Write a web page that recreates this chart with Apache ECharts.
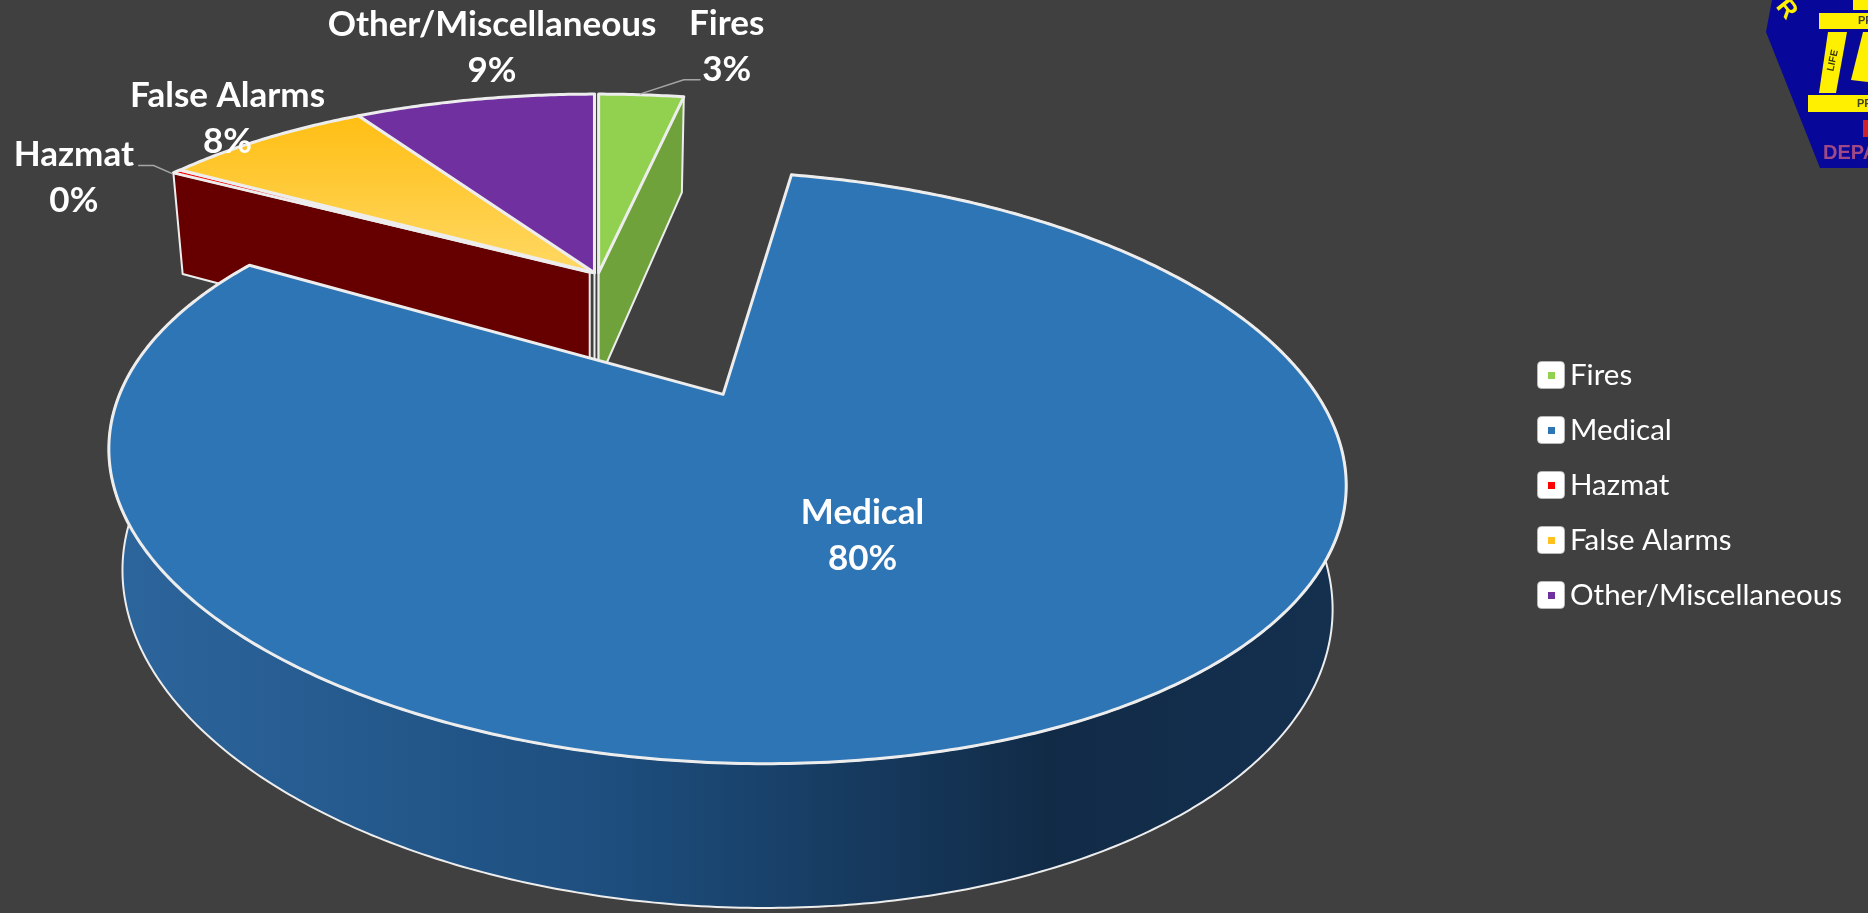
<!DOCTYPE html>
<html><head><meta charset="utf-8">
<style>html,body{margin:0;padding:0;background:#404040}#c{width:1868px;height:913px}</style>
<script src="https://cdn.jsdelivr.net/npm/echarts@6/dist/echarts.min.js"></script>
</head><body><div id="c"></div>
<script>
const categories = ['Fires','Medical','Hazmat','False Alarms','Other/Miscellaneous'];
const values = [3.1, 80.3, 0.3, 7.55, 8.75];
const legendColors = ['#92D050','#2E75B6','#FF0000','#FFC020','#7030A0'];

const S = 1868/1568;
const total = values.reduce((a,b)=>a+b,0);
const group = {x:500,y:229,a:460,b:187.5,k:0.25,c:0,sh:0,cx:500,qx:0,qy:0};
const medical = {x:607,y:331,a:502,b:233,k:0.252,c:23,sh:3.5,cx:611,qx:2.5,qy:1.5};
const styleOf = [
  {t:group, nudge:2.5, top:'#92D050', wall:'#70A23C', walls:[0,1], apexShift:0},
  {t:medical, nudge:0, top:'#2E75B6', rim:true, apexShift:0},
  {t:group, nudge:-1.5, top:'#FF0000', wall:'#660000', walls:[0], apexShift:-3.5},
  {t:group, nudge:-1, top:'grad', walls:[], apexShift:0},
  {t:group, nudge:-1, top:'#7030A0', wall:'#5A2586', walls:[1], apexShift:0}
];
const labelPos = [[610,39],[724,450],[62,149],[191,100],[413,40]];
const leaders = {0:[[537,79],[574,67],[588,67]],2:[[145,146],[129,139],[116,139]]};
const edge = '#EDEDED';

function project(st,u,v,bottom){
  const t=st.t, w=1+t.k*v, r2=u*u+v*v;
  let x=t.x+(t.a*u-t.c*v)/w+st.nudge-t.qx*r2, y=t.y+(-t.b*v+t.sh*u)/w-t.qy*r2;
  if(bottom){ const h=80+0.073*(y-78); x=x-(x-t.cx)*0.022; y=y+h; }
  return [x*S,y*S];
}
function rimPts(st,a0,a1,bottom){
  const pts=[],n=Math.max(2,Math.ceil((a1-a0)/0.01));
  for(let i=0;i<=n;i++){const a=a0+(a1-a0)*i/n;pts.push(project(st,Math.sin(a),Math.cos(a),bottom));}
  return pts;
}
function poly(points,fill,z2,stroke,lw){
  return {type:'polygon',shape:{points},z2,style:{fill,stroke:stroke||edge,lineWidth:lw===undefined?3:lw,lineJoin:'round'}};
}
function makeItem(index){
  return function(params,api){
    const val=api.value(0), st=styleOf[index], kids=[];
    let before=0; for(let i=0;i<index;i++) before+=values[i];
    const a0=before/total*2*Math.PI, a1=(before+val)/total*2*Math.PI;
    const c=project(st,0,0,false), cb=project(st,0,0,true);
    const top=rimPts(st,a0,a1,false);
    if(st.rim){
      const b=rimPts(st,a0,a1,true).reverse();
      const grad=new echarts.graphic.LinearGradient(100*S,0,1125*S,0,[
        {offset:0,color:'#2C659C'},{offset:0.4,color:'#1D4E7E'},{offset:0.76,color:'#112B47'},{offset:1,color:'#14304F'}],true);
      kids.push(poly(top.concat(b),grad,1,edge,2));
    }
    (st.walls||[]).forEach(k=>{
      const p=k===0?top[0]:top[top.length-1];
      const a=k===0?a0:a1;
      const pb=project(st,Math.sin(a),Math.cos(a),true);
      const sh=st.apexShift*S;
      kids.push(poly([[c[0]+sh,c[1]],p,pb,[cb[0]+sh,cb[1]]],st.wall,k===0&&index===0?1:2,edge,2));
    });
    let fill=st.top;
    if(fill==='grad') fill=new echarts.graphic.LinearGradient(0,95*S,0,232*S,[{offset:0,color:'#FFBE12'},{offset:1,color:'#FFD966'}],true);
    kids.push(poly([c].concat(top),fill,5));
    if(leaders[index]){
      kids.push({type:'polyline',z2:6,shape:{points:leaders[index].map(p=>[p[0]*S,p[1]*S])},style:{fill:null,stroke:'#A6A6A6',lineWidth:1.5}});
    }
    const pos=labelPos[index];
    kids.push({type:'text',z2:20,style:{
      text:categories[index]+'\n'+Math.round(val/total*100)+'%',
      x:pos[0]*S,y:pos[1]*S,align:'center',verticalAlign:'middle',
      fill:'#FFFFFF',font:'bold 35px Lato',lineHeight:46}});
    return {type:'group',children:kids};
  };
}
function legendIcon(color){
  const svg='<svg xmlns="http://www.w3.org/2000/svg" width="112" height="112"><rect x="2" y="2" width="108" height="108" rx="16" fill="#ffffff" stroke="#BFBFBF" stroke-width="3"/><rect x="44" y="44" width="28" height="28" fill="'+color+'"/></svg>';
  return 'image://data:image/svg+xml;charset=utf-8,'+encodeURIComponent(svg);
}
const zOrder=[2,3,2,2,2];
const chart=echarts.init(document.getElementById('c'));
chart.setOption({
  backgroundColor:'#404040',
  animation:false,
  tooltip:{show:false},
  legend:{
    orient:'vertical',left:1537,top:360,padding:0,itemWidth:28,itemHeight:28,itemGap:25,selectedMode:false,
    textStyle:{color:'#FFFFFF',fontFamily:'Lato',fontSize:29.5,lineHeight:28},
    data:categories.map((n,i)=>({name:n,icon:legendIcon(legendColors[i])}))
  },
  graphic:{elements:[
    {type:'polygon',shape:{points:[[1772,0],[1766,32],[1820,168],[1868,168],[1868,0]]},style:{fill:'#07079A'}},
    {type:'polygon',shape:{points:[[1819,13],[1868,13],[1868,29],[1819,29]]},style:{fill:'#FFF000'}},
    {type:'polygon',shape:{points:[[1853,0],[1868,0],[1868,10],[1853,10]]},style:{fill:'#FFF000'}},
    {type:'polygon',shape:{points:[[1828,32],[1847,32],[1836,93],[1819,93]]},style:{fill:'#FFF000'}},
    {type:'polygon',shape:{points:[[1808,95],[1868,95],[1868,112],[1808,112]]},style:{fill:'#FFF000'}},
    {type:'polygon',shape:{points:[[1863,32],[1868,32],[1868,82],[1851,80]]},style:{fill:'#FFF000'}},
    {type:'rect',shape:{x:1863,y:120,width:5,height:17},style:{fill:'#D0202A'}},
    {type:'text',style:{text:'R',x:1778,y:0,fill:'#FFF000',font:'bold 25px "Liberation Sans"'},rotation:-0.9,originX:1790,originY:10},
    {type:'text',style:{text:'LIFE',x:1824,y:52,fill:'#333300',font:'bold 10px "Liberation Sans"'},rotation:1.35,originX:1836,originY:60},
    {type:'text',style:{text:'PR',x:1858,y:15,fill:'#444422',font:'bold 11px "Liberation Sans"'}},
    {type:'text',style:{text:'PR',x:1857,y:98,fill:'#444422',font:'bold 11px "Liberation Sans"'}},
    {type:'text',style:{text:'DEPA',x:1823,y:143,fill:'#A04A85',font:'bold 20px "Liberation Sans Narrow","Liberation Sans"'}}
  ]},
  series:categories.map((name,i)=>({
    type:'custom',name,coordinateSystem:'none',z:zOrder[i],silent:true,
    itemStyle:{color:legendColors[i]},
    data:[[values[i]]],
    renderItem:makeItem(i)
  }))
});
</script></body></html>
